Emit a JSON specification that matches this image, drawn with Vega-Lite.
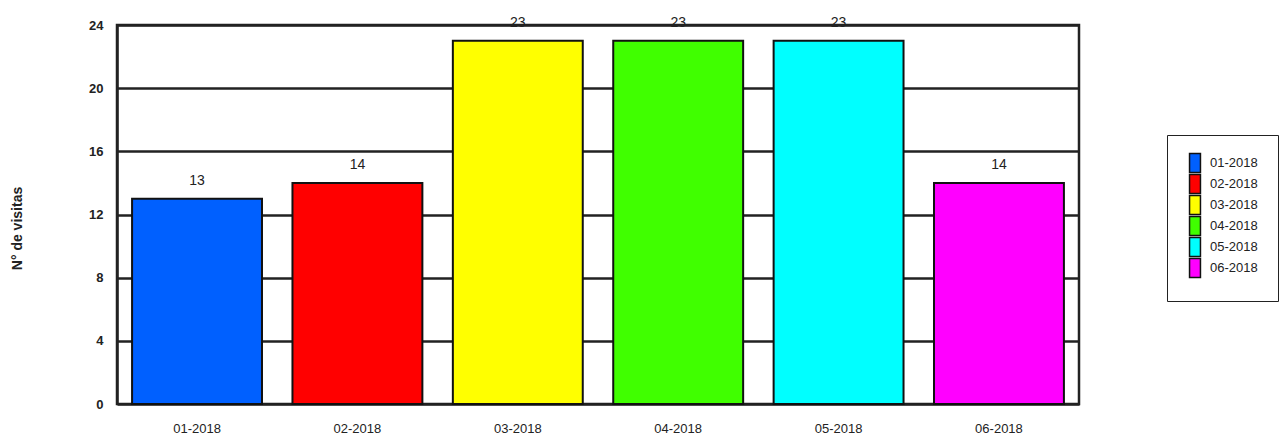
{
  "$schema": "https://vega.github.io/schema/vega-lite/v6.json",
  "autosize": {"type": "none"},
  "padding": {"left": 117, "top": 25, "right": 206, "bottom": 40},
  "width": 962,
  "height": 379,
  "background": "white",
  "config": {
    "view": {"stroke": "#222", "strokeWidth": 2.5},
    "font": "Liberation Sans"
  },
  "data": {
    "values": [
      {"mes": "01-2018", "visitas": 13},
      {"mes": "02-2018", "visitas": 14},
      {"mes": "03-2018", "visitas": 23},
      {"mes": "04-2018", "visitas": 23},
      {"mes": "05-2018", "visitas": 23},
      {"mes": "06-2018", "visitas": 14}
    ]
  },
  "encoding": {
    "x": {
      "field": "mes",
      "type": "nominal",
      "scale": {"paddingInner": 0.19, "paddingOuter": 0.094},
      "axis": {
        "title": null,
        "labelAngle": 0,
        "ticks": false,
        "domain": false,
        "labelPadding": 18,
        "labelFontSize": 13,
        "labelColor": "#222"
      }
    },
    "y": {
      "field": "visitas",
      "type": "quantitative",
      "scale": {"domain": [0, 24], "nice": false},
      "axis": {
        "values": [0, 4, 8, 12, 16, 20, 24],
        "title": "N° de visitas",
        "grid": true,
        "gridColor": "#222",
        "gridWidth": 2.5,
        "gridOpacity": 1,
        "ticks": false,
        "domainColor": "#222",
        "domainWidth": 2.5,
        "labelPadding": 14,
        "labelFontWeight": "bold",
        "labelFontSize": 13,
        "labelColor": "#222",
        "titleX": -100,
        "titleY": 203,
        "titleAngle": -90,
        "titleAlign": "center",
        "titleBaseline": "middle",
        "titleFontSize": 14,
        "titleFontWeight": "bold",
        "titleColor": "#222"
      }
    }
  },
  "layer": [
    {
      "mark": {"type": "bar", "stroke": "#111", "strokeWidth": 2, "opacity": 1},
      "encoding": {
        "color": {
          "field": "mes",
          "type": "nominal",
          "scale": {"range": ["#0060FF", "#FF0000", "#FFFF00", "#40FF00", "#00FFFF", "#FF00FF"]},
          "legend": {
            "title": null,
            "orient": "none",
            "legendX": 1050,
            "legendY": 110,
            "padding": 20,
            "strokeColor": "#222",
            "symbolType": "M-0.8,-1.41H0.8V1.41H-0.8Z",
            "symbolSize": 186,
            "symbolStrokeColor": "#111",
            "symbolStrokeWidth": 1.5,
            "symbolOpacity": 1,
            "rowPadding": -8,
            "labelOffset": 7,
            "labelFontSize": 13,
            "labelColor": "#222"
          }
        }
      }
    },
    {
      "mark": {"type": "text", "baseline": "bottom", "dy": -11, "fontSize": 14, "color": "#222"},
      "encoding": {"text": {"field": "visitas", "type": "quantitative"}}
    }
  ]
}
